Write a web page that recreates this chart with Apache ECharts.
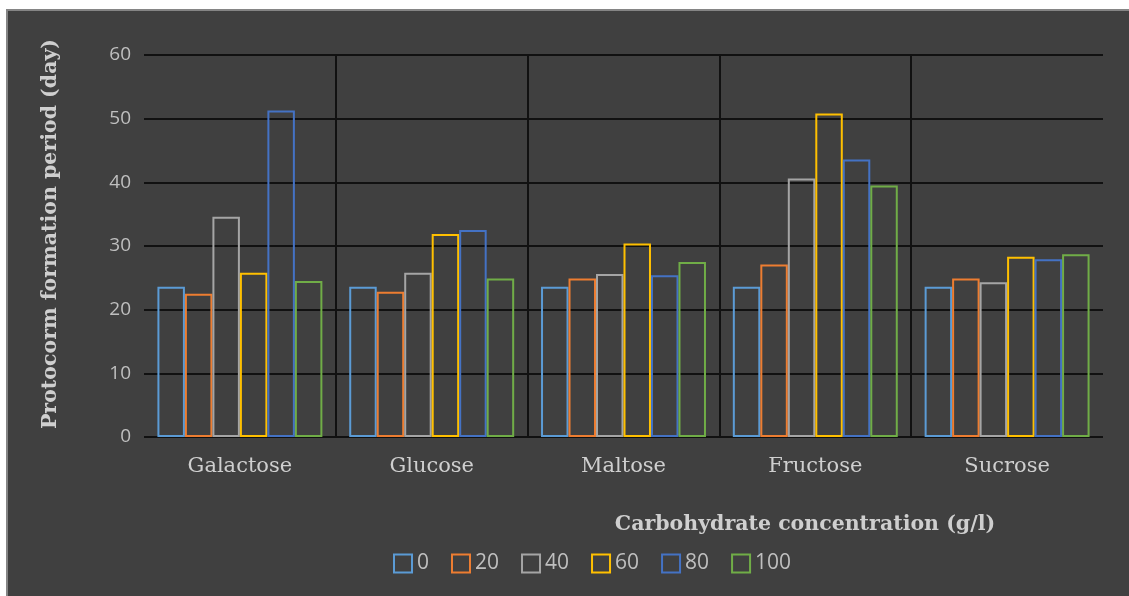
<!DOCTYPE html>
<html>
<head>
<meta charset="utf-8">
<script src="https://cdn.jsdelivr.net/npm/echarts@6/dist/echarts.min.js"></script>
<style>
  body { margin: 0; background: #fff; }
  .frame {
    position: absolute; left: 6px; top: 9px; width: 1123px; height: 587px;
    background: #404040; border-top: 2px solid #858585; border-left: 2px solid #858585;
    box-sizing: border-box;
  }
  #main { position: absolute; left: 0; top: 0; width: 1129px; height: 596px; }
</style>
</head>
<body>
<div class="frame"></div>
<div id="main"></div>
<script>
const categories = ["Galactose", "Glucose", "Maltose", "Fructose", "Sucrose"];
const seriesNames = ["0", "20", "40", "60", "80", "100"];
const conc0 = [23.6, 23.6, 23.6, 23.6, 23.6];
const conc20 = [22.5, 22.8, 24.9, 27.1, 24.9];
const conc40 = [34.6, 25.8, 25.6, 40.6, 24.3];
const conc60 = [25.8, 31.9, 30.4, 50.8, 28.3];
const conc80 = [51.3, 32.5, 25.4, 43.6, 27.9];
const conc100 = [24.5, 24.9, 27.5, 39.5, 28.7];
const yTicks = [0, 10, 20, 30, 40, 50, 60];

const colors = ["#5b9bd5", "#ed7d31", "#a5a5a5", "#ffc000", "#4472c4", "#70ad47"];
const values = [conc0, conc20, conc40, conc60, conc80, conc100];

const chart = echarts.init(document.getElementById("main"));
chart.setOption({
  backgroundColor: "transparent",
  animation: false,
  grid: { left: 144, right: 26, top: 55, bottom: 159 },
  legend: {
    data: seriesNames,
    icon: "rect",
    bottom: 17,
    left: 388,
    itemWidth: 18,
    itemHeight: 18,
    itemGap: 22,
    textStyle: { color: "#bfbfbf", fontFamily: "Open Sans", fontSize: 21 },
  },
  xAxis: {
    type: "category",
    data: categories,
    axisLine: { show: false },
    axisTick: { show: false },
    axisLabel: {
      margin: 19,
      color: "#cfcfcf",
      fontFamily: "DejaVu Serif",
      fontSize: 21,
    },
    splitLine: {
      show: true,
      showMinLine: false,
      showMaxLine: false,
      lineStyle: { color: "#111", width: 2 },
    },
  },
  yAxis: {
    type: "value",
    min: yTicks[0],
    max: yTicks[yTicks.length - 1],
    interval: 10,
    axisLine: { show: false },
    axisTick: { show: false },
    axisLabel: {
      margin: 13,
      color: "#bfbfbf",
      fontFamily: "Open Sans",
      fontSize: 19,
    },
    splitLine: { lineStyle: { color: "#111", width: 2 } },
  },
  graphic: [
    {
      type: "text",
      x: 51,
      y: 234,
      rotation: Math.PI / 2,
      style: {
        text: "Protocorm formation period (day)",
        fill: "#cfcfcf",
        font: "bold 20.5px 'DejaVu Serif'",
        align: "center",
        verticalAlign: "middle",
      },
    },
    {
      type: "text",
      x: 805,
      y: 525,
      style: {
        text: "Carbohydrate concentration (g/l)",
        fill: "#cfcfcf",
        font: "bold 20.5px 'DejaVu Serif'",
        align: "center",
        verticalAlign: "middle",
      },
    },
  ],
  series: seriesNames.map((name, i) => ({
    name: name,
    type: "bar",
    data: values[i],
    barGap: "0%",
    barCategoryGap: "14%",
    itemStyle: {
      color: "transparent",
      borderColor: colors[i],
      borderWidth: 2,
    },
  })),
});
</script>
</body>
</html>
